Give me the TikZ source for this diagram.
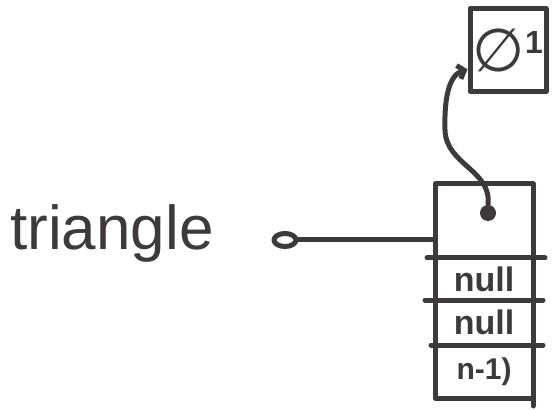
\documentclass[tikz,border=0pt]{standalone}
\usepackage{fontspec}
\setmainfont{Liberation Sans}
\newfontfamily\symfont{DejaVu Sans}
\usetikzlibrary{shapes.geometric,arrows.meta,calc}
\definecolor{ink}{RGB}{62,57,58}
\begin{document}
\begin{tikzpicture}[x=1pt,y=-1pt,
  pen/.style={draw=ink,line width=5pt,line cap=round,line join=round},
  cell/.style={pen,minimum width=98pt,inner sep=0pt,outer sep=0pt,text=ink},
  lbl/.style={font=\fontsize{34}{34}\selectfont\bfseries},
  big/.style={font=\fontsize{62}{62}\selectfont,text=ink,inner sep=0pt}
]
\useasboundingbox (0,0) rectangle (556,411);
% label
\node[big,anchor=base west] (label) at (10,250) {triangle};
% reference circle
\node[pen,ellipse,fill=white,minimum width=22pt,minimum height=13pt,inner sep=0pt,line width=5pt] (ref) at (285,240) {};
% array cells
\node[cell,minimum height=74pt] (cell0) at (484,221) {};
\node[cell,minimum height=42pt,lbl] (cell1) at (484,279) {null};
\node[cell,minimum height=45pt,lbl] (cell2) at (484,322.5) {null};
\node[cell,minimum height=53pt,font=\fontsize{30}{30}\selectfont\bfseries] (cell3) at (484,371.5) {n-1)};
% divider extensions
\draw[pen] ([xshift=-8pt]cell0.south west) -- ([xshift=12pt]cell0.south east);
\draw[pen] ([xshift=-10pt]cell1.south west) -- ([xshift=10pt]cell1.south east);
\draw[pen] ([xshift=-4pt]cell2.south west) -- ([xshift=10pt]cell2.south east);
\draw[pen] (cell3.south east) -- ([yshift=-8pt]cell3.south east);
% pointer dot
\node[circle,fill=ink,minimum size=16pt,inner sep=0pt] (ptr) at (488,213) {};
% small object box
\node[pen,minimum width=76pt,minimum height=83pt,inner sep=0pt,text=ink] (obj) at (508,50)
  {{\symfont\fontsize{60}{60}\selectfont ∅}\raisebox{18pt}{\fontsize{32}{32}\selectfont\bfseries 1}};
% connectors
\draw[pen] (ref.east) -- (ref.east -| cell0.west);
\coordinate (objin) at ($(obj.south west)!0.28!(obj.north west)$);
\draw[pen,-{Straight Barb[length=6pt,width=14pt]}] (ptr.north) .. controls (492,170) and (446,165) .. (445,130) .. controls (444,95) and (450,75) .. (objin);
\end{tikzpicture}
\end{document}
